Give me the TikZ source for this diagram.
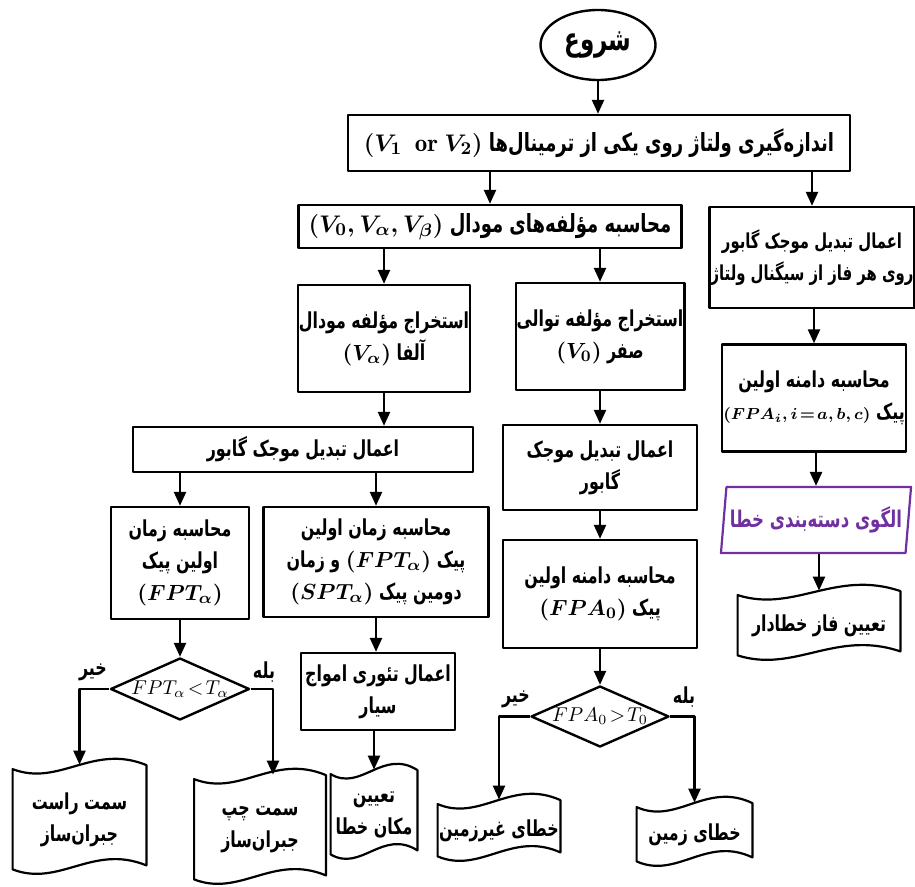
\documentclass[tikz,border=0pt]{standalone}
\usepackage{amsmath}
\usepackage{fontspec}
\usetikzlibrary{shapes.geometric,arrows.meta,calc}
\newfontfamily\arabicfont[Script=Arabic, FakeStretch=0.72]{DejaVu Sans}
\TeXXeTstate=1
\definecolor{banafsh}{RGB}{112,48,160}
\newcommand{\fa}[1]{\beginR#1\endR}
% outline of a wavy document box round a node
\newcommand{\varaq}[1]{%
  \draw[line width=1.1pt] ($(#1.north west)+(0,4.5)$)
    .. controls ($(#1.north west)!0.35!(#1.north east)+(0,22.5)$) and ($(#1.north west)!0.6!(#1.north east)+(0,-21.5)$) .. ($(#1.north east)+(0,0.5)$)
    -- ($(#1.south east)+(0,-10)$)
    .. controls ($(#1.south west)!0.6!(#1.south east)+(0,-32)$) and ($(#1.south west)!0.35!(#1.south east)+(0,12)$) .. ($(#1.south west)+(0,-6)$)
    -- cycle;}

\begin{document}
\begin{tikzpicture}[x=0.5pt, y=-0.5pt, line join=round, >={Triangle[length=7pt,width=6pt]},
  every node/.style={font=\arabicfont\bfseries\boldmath\fontsize{11}{16}\selectfont},
  jabe/.style={draw, line width=1.2pt, align=center, inner sep=0.5pt},
  varaqe/.style={align=center, inner sep=0.5pt},
  lozi/.style={diamond, draw, line width=1.2pt, inner sep=0pt},
  sharti/.style={font=\unboldmath\fontsize{10}{12}\selectfont},
  peykan/.style={->, line width=1.2pt}]

  \useasboundingbox (0,0) rectangle (915,887);

  % shoru va andazegiri
  \node[ellipse, draw, line width=1.2pt, minimum width=57.5pt, minimum height=35pt,
        font=\arabicfont\bfseries\fontsize{16}{18}\selectfont] (shoru) at (598,45) {\fa{شروع}};
  \node[jabe, minimum width=251pt, minimum height=28pt,
        font=\arabicfont\bfseries\boldmath\fontsize{12.5}{15}\selectfont] (andaze) at (599,143)
        {\fa{اندازه‌گیری ولتاژ روی یکی از ترمینال‌ها $(V_1\ \ \mathrm{or}\ V_2)$}};
  \node[jabe, minimum width=191.5pt, minimum height=21.5pt,
        font=\arabicfont\bfseries\boldmath\fontsize{12.5}{15}\selectfont] (modal) at (490,226.5)
        {\fa{محاسبه مؤلفه‌های مودال $(V_0, V_\alpha, V_\beta)$}};

  % sotun rast
  \node[jabe, minimum width=100pt, minimum height=50.5pt,
        font=\arabicfont\bfseries\fontsize{10.3}{16}\selectfont] (gabor) at (812,257.5)
        {\fa{اعمال تبدیل موجک گابور}\\\fa{روی هر فاز از سیگنال ولتاژ}};
  \node[jabe, minimum width=88pt, minimum height=53.5pt] (damane) at (814,398)
        {\fa{محاسبه دامنه اولین}\\\fa{پیک {\fontsize{8.5}{11}\selectfont$(FPA_i,i\!=\!a,b,c)$}}};
  \node[trapezium, trapezium left angle=80, trapezium right angle=100, trapezium stretches=true,
        draw=banafsh, text=banafsh, line width=1.1pt, minimum width=96pt, minimum height=33pt, inner sep=1pt,
        font=\arabicfont\bfseries\fontsize{11.5}{13}\selectfont] (olgu) at (816,520) {\fa{الگوی دسته‌بندی خطا}};
  \node[varaqe, minimum width=81pt, minimum height=35pt] (faz) at (819,626) {\fa{تعیین فاز خطادار}};

  % sotun vasat
  \node[jabe, minimum width=77.5pt, minimum height=53.5pt] (tavali) at (600,336.5)
        {\fa{استخراج مؤلفه توالی}\\\fa{صفر $(V_0)$}};
  \node[jabe, minimum width=97pt, minimum height=42.5pt] (gabor2) at (600,467.5)
        {\fa{اعمال تبدیل موجک}\\\fa{گابور}};
  \node[jabe, minimum width=97pt, minimum height=54pt] (damane2) at (600,594)
        {\fa{محاسبه دامنه اولین}\\\fa{پیک $(FPA_0)$}};
  \node[lozi, minimum width=69pt, minimum height=30.5pt,
        label={[sharti]center:$FPA_0\!>\!T_0$}] (shart2) at (600,716.5) {};
  \node[varaqe, minimum width=61pt, minimum height=31pt] (gheyr) at (499,831) {\fa{خطای غیرزمین}};
  \node[varaqe, minimum width=57.5pt, minimum height=32pt] (zamin) at (694.5,835) {\fa{خطای زمین}};

  % sotun chap
  \node[jabe, minimum width=86pt, minimum height=53.5pt] (alfa) at (384,338.5)
        {\fa{استخراج مؤلفه مودال}\\\fa{آلفا $(V_\alpha)$}};
  \node[jabe, minimum width=170pt, minimum height=22.5pt] (gabor3) at (303,449.5)
        {\fa{اعمال تبدیل موجک گابور}};
  \node[jabe, minimum width=69pt, minimum height=56pt] (zaman1) at (180,563)
        {\fa{محاسبه زمان}\\\fa{اولین پیک}\\$(FPT_\alpha)$};
  \node[jabe, minimum width=112.5pt, minimum height=55pt] (zaman2) at (376,562)
        {\fa{محاسبه زمان اولین}\\\fa{پیک $(FPT_\alpha)$ و زمان}\\\fa{دومین پیک $(SPT_\alpha)$}};
  \node[jabe, minimum width=77pt, minimum height=38.5pt] (amvaj) at (378,691.5)
        {\fa{اعمال تئوری امواج}\\\fa{سیار}};
  \node[varaqe, minimum width=43pt, minimum height=45pt] (makan) at (374,815)
        {\fa{تعیین}\\\fa{مکان خطا}};
  \node[lozi, minimum width=69.5pt, minimum height=31pt,
        label={[sharti]center:$FPT_\alpha\!<\!T_\alpha$}] (shart1) at (180,689) {};
  \node[varaqe, minimum width=66.5pt, minimum height=55pt] (rast) at (79.5,820)
        {\fa{سمت راست}\\\fa{جبران‌ساز}};
  \node[varaqe, minimum width=65.5pt, minimum height=55pt] (chap) at (260,830)
        {\fa{سمت چپ}\\\fa{جبران‌ساز}};

  % bale va kheyr
  \node (kheyr1) at (93,672) {\fa{خیر}};
  \node (bale1) at (264,672) {\fa{بله}};
  \node (kheyr2) at (516,699) {\fa{خیر}};
  \node (bale2) at (684,697) {\fa{بله}};

  % varaqeha
  \foreach \n in {faz, gheyr, zamin, makan, rast, chap} {\varaq{\n}}

  % peykanha
  \draw[peykan] (shoru.south) -- (shoru.south |- andaze.north);
  \draw[peykan] (andaze.south -| gabor.north) -- (gabor.north);
  \draw[peykan] (andaze.south -| modal.north) -- (modal.north);
  \draw[peykan] (gabor.south -| damane.north) -- (damane.north);
  \draw[peykan] (damane.south -| olgu.north) -- (olgu.north);
  \draw[peykan] (olgu.south -| faz.north) -- (faz.north);
  \draw[peykan] (modal.south -| alfa.north) -- (alfa.north);
  \draw[peykan] (modal.south -| tavali.north) -- (tavali.north);
  \draw[peykan] (tavali.south) -- (gabor2.north);
  \draw[peykan] (gabor2.south) -- (damane2.north);
  \draw[peykan] (damane2.south) -- (shart2.north);
  \draw[peykan] (shart2.west) -| (gheyr.north);
  \draw[peykan] (shart2.east) -| (zamin.north);
  \draw[peykan] (alfa.south) -- (alfa.south |- gabor3.north);
  \draw[peykan] (gabor3.south -| zaman1.north) -- (zaman1.north);
  \draw[peykan] (gabor3.south -| zaman2.north) -- (zaman2.north);
  \draw[peykan] (zaman1.south) -- (shart1.north);
  \draw[peykan] (zaman2.south) -- (zaman2.south |- amvaj.north);
  \draw[peykan] (amvaj.south -| makan.north) -- (makan.north);
  \draw[peykan] (shart1.west) -| (rast.north);
  \draw[peykan] (shart1.east) -| ([xshift=6.5pt]chap.north);

\end{tikzpicture}
\end{document}
